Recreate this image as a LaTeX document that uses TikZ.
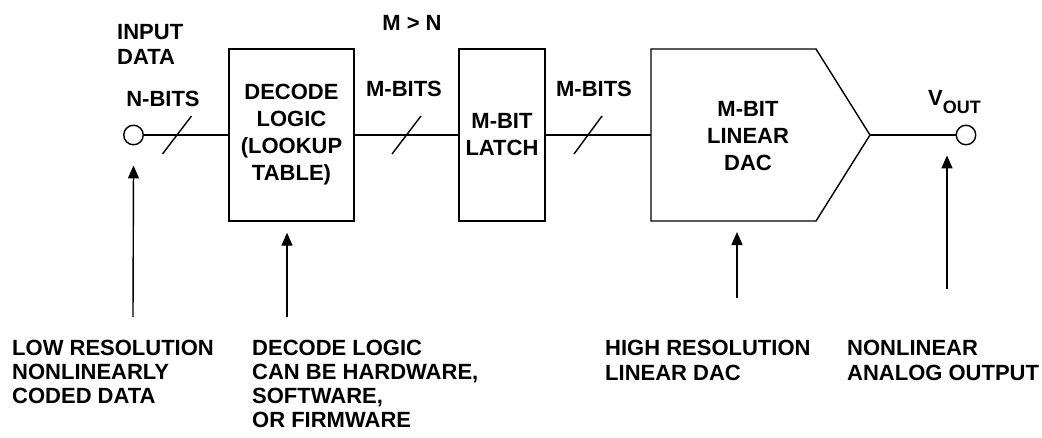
\documentclass[tikz,border=0pt]{standalone}
\usepackage{fontspec}
\setmainfont{Liberation Sans}
\usetikzlibrary{arrows.meta}
\begin{document}
\begin{tikzpicture}[x=1pt,y=-1pt,
  lbl/.style={font=\bfseries\fontsize{22}{27}\selectfont, inner sep=0pt, align=center},
  note/.style={font=\bfseries\fontsize{22}{24}\selectfont, inner sep=0pt, align=left, anchor=north west},
  blk/.style={draw, line width=1.4pt, inner sep=0pt, align=center, font=\bfseries\fontsize{22}{27}\selectfont},
  wire/.style={line width=1.4pt},
  arr/.style={line width=1.4pt, -{Triangle[length=13pt,width=11pt]}},
  term/.style={circle, draw, line width=1.4pt, minimum size=19.5pt, inner sep=0pt}]
\useasboundingbox (0,0) rectangle (1042,437);

% terminals
\node[term] (in) at (133.5,135) {};
\node[term] (out) at (966,135) {};

% blocks
\node[blk, minimum width=125pt, minimum height=172pt] (dec) at (291.5,135) {DECODE\\LOGIC\\(LOOKUP\\TABLE)};
\node[blk, minimum width=86pt, minimum height=172pt] (lat) at (502,135) {M-BIT\\LATCH};
\draw[line width=1.4pt, line join=miter] (651,49) -- (816,49) -- (870,135) -- (816,221) -- (651,221) -- cycle;
\node[lbl] (dac) at (748,136.5) {M-BIT\\LINEAR\\DAC};
\coordinate (dacin) at (651,135);
\coordinate (dacout) at (870,135);
\coordinate (dacbot) at (737,221);

% wires
\draw[wire] (in.east) -- (dec.west);
\draw[wire] (dec.east) -- (lat.west);
\draw[wire] (lat.east) -- (dacin);
\draw[wire] (dacout) -- (out.west);

% bus slashes
\draw[wire] (162.5,154) -- (191.5,116);
\draw[wire] (392,154) -- (421,116);
\draw[wire] (574,154) -- (602,116);

% labels
\node[note, font=\bfseries\fontsize{22}{25}\selectfont] (inlbl) at (117,24.5) {INPUT\\DATA};
\node[lbl] (nbits) at (163,99) {N-BITS};
\node[lbl] (mgn) at (412,23) {M > N};
\node[lbl] (mbits1) at (404,89) {M-BITS};
\node[lbl] (mbits2) at (594,89) {M-BITS};
\node[lbl, anchor=base west] (vout) at (928,105) {V\raisebox{-8pt}{\fontsize{18}{18}\selectfont OUT}};

% bottom notes
\node[note] (n1) at (12,339.5) {LOW RESOLUTION\\NONLINEARLY\\CODED DATA};
\node[note] (n2) at (252,339.5) {DECODE LOGIC\\CAN BE HARDWARE,\\SOFTWARE,\\OR FIRMWARE};
\node[note, font=\bfseries\fontsize{22}{25.5}\selectfont] (n3) at (605,339.5) {HIGH RESOLUTION\\LINEAR DAC};
\node[note, font=\bfseries\fontsize{22}{25.5}\selectfont] (n4) at (847,339.5) {NONLINEAR\\ANALOG OUTPUT};

% pointer arrows
\coordinate (p1) at (133,317);
\coordinate (p2) at (287,317);
\coordinate (p3) at (737,298);
\coordinate (p4) at (947,289);
\draw[arr] (p1) -- ([yshift=-20pt]in.south);
\draw[arr] (p2) -- ([xshift=-4.5pt,yshift=-11pt]dec.south);
\draw[arr] (p3) -- ([yshift=-11pt]dacbot);
\draw[arr] (p4) -- ([xshift=-19pt,yshift=-10pt]out.south);
\end{tikzpicture}
\end{document}
